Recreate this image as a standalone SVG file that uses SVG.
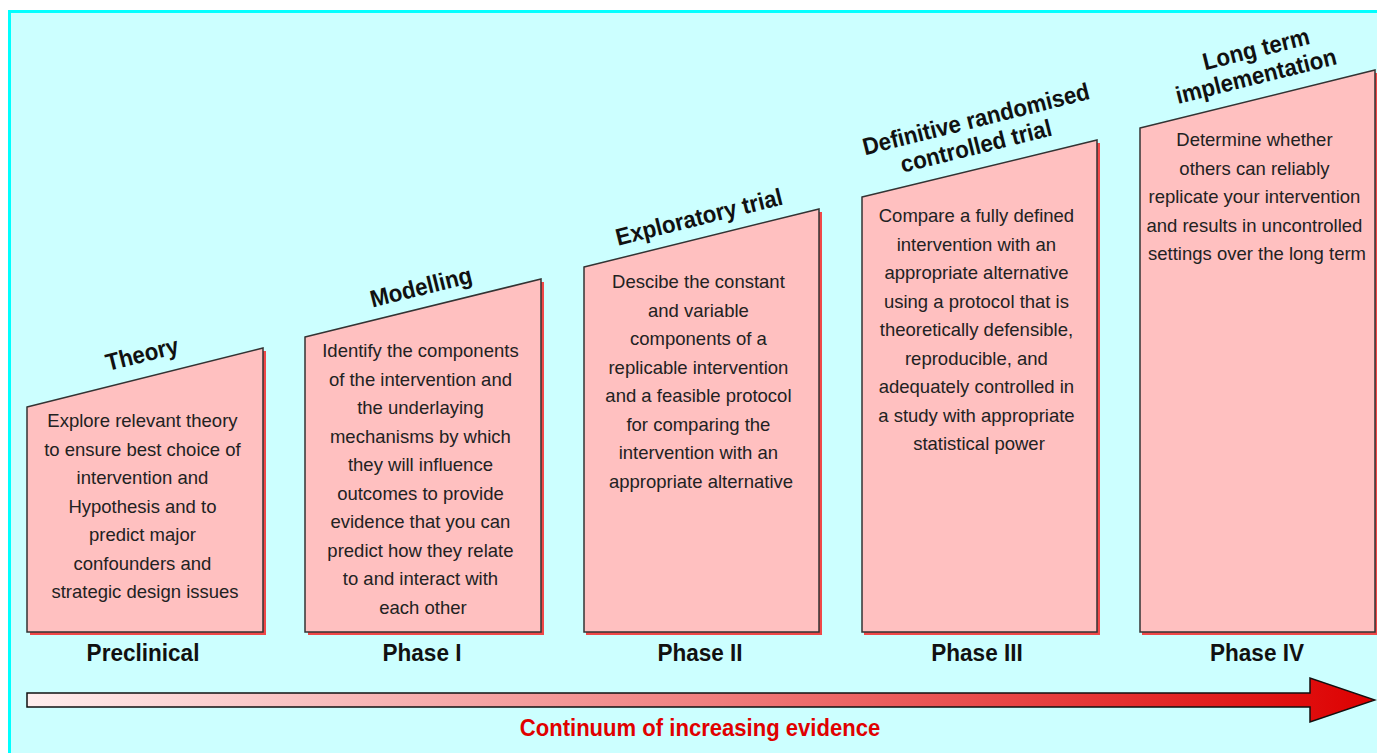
<svg xmlns="http://www.w3.org/2000/svg" width="1377" height="753" viewBox="0 0 1377 753">
<defs>
<linearGradient id="ev" x1="0" y1="0" x2="1" y2="0">
<stop offset="0" stop-color="#FFEEEE"/>
<stop offset="0.5" stop-color="#F08080"/>
<stop offset="1" stop-color="#DD0000"/>
</linearGradient>
<style>
.bg{fill:#CCFFFF;stroke:#00FFFF;stroke-width:3}
.box{fill:#FFC0C0;stroke:#333333;stroke-width:1.5}
.sh{fill:#F04848}
.body{font-family:"Liberation Sans",Arial,sans-serif;font-size:18.5px;fill:#222;text-anchor:middle}
.title{font-family:"Liberation Sans",Arial,sans-serif;font-size:24px;font-weight:bold;fill:#111;text-anchor:middle}
.phase{font-family:"Liberation Sans",Arial,sans-serif;font-size:24px;font-weight:bold;fill:#111;text-anchor:middle}
.cap{font-family:"Liberation Sans",Arial,sans-serif;font-size:24px;font-weight:bold;fill:#E00000;text-anchor:middle}
</style>
</defs>
<rect x="0" y="0" width="1377" height="753" fill="#FFFFFF"/>
<rect x="9.5" y="11.5" width="1380" height="760" class="bg"/>

<g id="node-preclinical">
<polygon class="sh" points="266,351 266,635 30,635 30,632 263,632 263,351"/>
<polygon class="box" points="27,407 263,348 263,632 27,632"/>
<text class="title" transform="translate(144,362) rotate(-14) scale(0.93,1)">Theory</text>
<text class="body">
<tspan x="145" y="427">Explore relevant theory</tspan>
<tspan x="145" y="455.5">to ensure best choice of</tspan>
<tspan x="145" y="484">intervention and</tspan>
<tspan x="145" y="512.5">Hypothesis and to</tspan>
<tspan x="145" y="541">predict major</tspan>
<tspan x="145" y="569.5">confounders and</tspan>
<tspan x="145" y="598">strategic design issues</tspan>
</text>
<text class="phase" transform="translate(143,661) scale(0.94,1)">Preclinical</text>
</g>

<g id="node-phase1">
<polygon class="sh" points="544,282 544,635 308,635 308,632 541,632 541,282"/>
<polygon class="box" points="305,337 541,279 541,632 305,632"/>
<text class="title" transform="translate(423,295) rotate(-14) scale(0.93,1)">Modelling</text>
<text class="body">
<tspan x="423" y="357">Identify the components</tspan>
<tspan x="423" y="385.5">of the intervention and</tspan>
<tspan x="423" y="414">the underlaying</tspan>
<tspan x="423" y="442.5">mechanisms by which</tspan>
<tspan x="423" y="471">they will influence</tspan>
<tspan x="423" y="499.5">outcomes to provide</tspan>
<tspan x="423" y="528">evidence that you can</tspan>
<tspan x="423" y="556.5">predict how they relate</tspan>
<tspan x="423" y="585">to and interact with</tspan>
<tspan x="423" y="613.5">each other</tspan>
</text>
<text class="phase" transform="translate(422,661) scale(0.94,1)">Phase I</text>
</g>

<g id="node-phase2">
<polygon class="sh" points="822,212 822,635 586,635 586,632 819,632 819,212"/>
<polygon class="box" points="584,267 819,209 819,632 584,632"/>
<text class="title" transform="translate(701,225) rotate(-14) scale(0.93,1)">Exploratory trial</text>
<text class="body">
<tspan x="701" y="288">Descibe the constant</tspan>
<tspan x="701" y="316.5">and variable</tspan>
<tspan x="701" y="345">components of a</tspan>
<tspan x="701" y="373.5">replicable intervention</tspan>
<tspan x="701" y="402">and a feasible protocol</tspan>
<tspan x="701" y="430.5">for comparing the</tspan>
<tspan x="701" y="459">intervention with an</tspan>
<tspan x="701" y="487.5">appropriate alternative</tspan>
</text>
<text class="phase" transform="translate(700,661) scale(0.94,1)">Phase II</text>
</g>

<g id="node-phase3">
<polygon class="sh" points="1100,143 1100,635 864,635 864,632 1097,632 1097,143"/>
<polygon class="box" points="862,197 1097,140 1097,632 862,632"/>
<text class="title" transform="translate(978,127) rotate(-14) scale(0.93,1)">Definitive randomised</text>
<text class="title" transform="translate(978,154) rotate(-14) scale(0.93,1)">controlled trial</text>
<text class="body">
<tspan x="979" y="222">Compare a fully defined</tspan>
<tspan x="979" y="250.5">intervention with an</tspan>
<tspan x="979" y="279">appropriate alternative</tspan>
<tspan x="979" y="307.5">using a protocol that is</tspan>
<tspan x="979" y="336">theoretically defensible,</tspan>
<tspan x="979" y="364.5">reproducible, and</tspan>
<tspan x="979" y="393">adequately controlled in</tspan>
<tspan x="979" y="421.5">a study with appropriate</tspan>
<tspan x="979" y="450">statistical power</tspan>
</text>
<text class="phase" transform="translate(977,661) scale(0.94,1)">Phase III</text>
</g>

<g id="node-phase4">
<polygon class="sh" points="1378,73 1378,635 1142,635 1142,632 1375,632 1375,73"/>
<polygon class="box" points="1140,128 1375,70 1375,632 1140,632"/>
<text class="title" transform="translate(1258,57) rotate(-14) scale(0.93,1)">Long term</text>
<text class="title" transform="translate(1258,84) rotate(-14) scale(0.93,1)">implementation</text>
<text class="body">
<tspan x="1257" y="146">Determine whether</tspan>
<tspan x="1257" y="174.5">others can reliably</tspan>
<tspan x="1257" y="203">replicate your intervention</tspan>
<tspan x="1257" y="231.5">and results in uncontrolled</tspan>
<tspan x="1257" y="260">settings over the long term</tspan>
</text>
<text class="phase" transform="translate(1257,661) scale(0.94,1)">Phase IV</text>
</g>

<g id="connectors">
<polygon points="27,693 1310,693 1310,678 1375,700 1310,722 1310,707 27,707" fill="url(#ev)" stroke="#111" stroke-width="1.5"/>
<text class="cap" transform="translate(700,736) scale(0.92,1)">Continuum of increasing evidence</text>
</g>
</svg>
